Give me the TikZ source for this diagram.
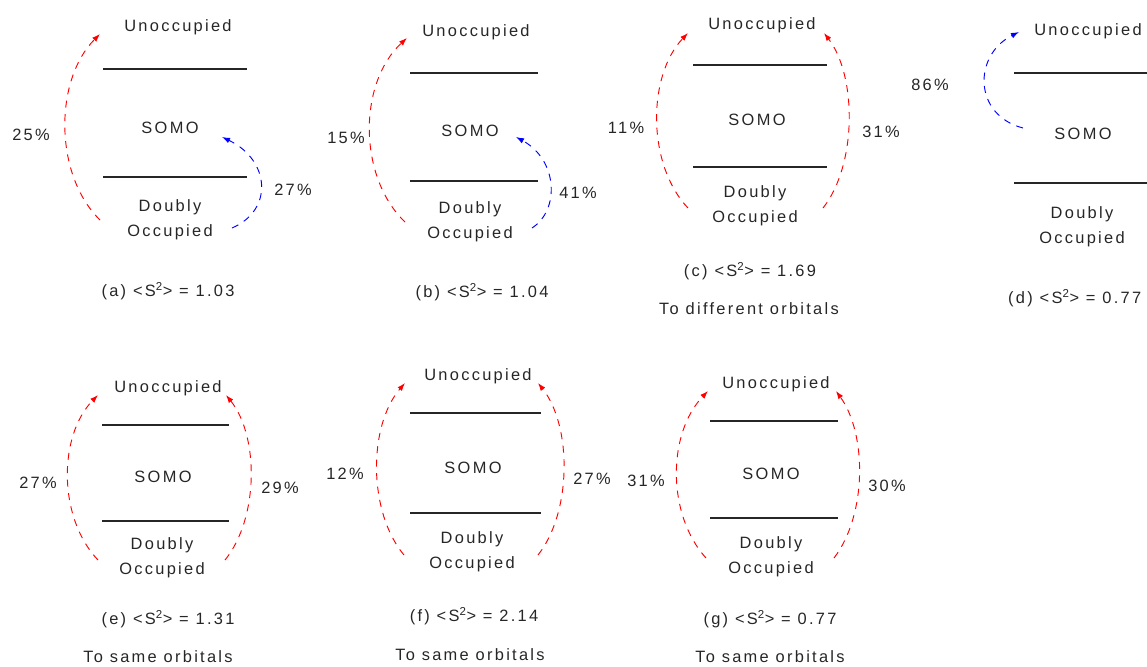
\documentclass[tikz,border=0pt]{standalone}
\usepackage{fontspec}
\newfontfamily\lsfont[LetterSpace=14]{Liberation Sans}
\usetikzlibrary{arrows.meta}

\begin{document}
\begin{tikzpicture}[x=0.03cm, y=-0.03cm,
  lbl/.style={inner sep=0pt, align=center, text=black!85, font=\lsfont\fontsize{14}{21.5}\selectfont},
  lvl/.style={line width=1.1pt, black!85},
  jump/.style={#1, line width=0.8pt, dash pattern=on 6pt off 5.5pt, -{Latex[length=2.4mm, width=1.7mm]}}]
\useasboundingbox (0,0) rectangle (1147,666);
% (a)
\node[lbl] (a-un) at (178,27) {Unoccupied};
\draw[lvl] (103,69) -- (247,69);
\node[lbl] (a-so) at (170,128) {SO\kern2pt MO};
\draw[lvl] (103,177) -- (247,177);
\node[lbl] (a-do) at (170,220) {Doubly\\Occupied};
\node[lbl] (a-cap) at (168,291) {(a) <S\textsuperscript{2}> = 1.03};
\coordinate (a-l0) at (100,220); \coordinate (a-l1) at (100,34);
\coordinate (a-b0) at (232,228); \coordinate (a-b1) at (222,137);
\draw[jump=red] (a-l0) .. controls (54,175) and (54,80) .. (a-l1);
\draw[jump=blue] (a-b0) .. controls (274,210) and (270,160) .. (a-b1);
\node[lbl] (a-p1) at (31,135) {25\%};
\node[lbl] (a-p2) at (293,190) {27\%};
% (b)
\node[lbl] (b-un) at (476,32) {Unoccupied};
\draw[lvl] (410,73) -- (538,73);
\node[lbl] (b-so) at (470,131) {SO\kern2pt MO};
\draw[lvl] (410,181) -- (538,181);
\node[lbl] (b-do) at (470,222) {Doubly\\Occupied};
\node[lbl] (b-cap) at (482,292) {(b) <S\textsuperscript{2}> = 1.04};
\coordinate (b-l0) at (405,222); \coordinate (b-l1) at (407,38);
\coordinate (b-b0) at (532,228); \coordinate (b-b1) at (516,137);
\draw[jump=red] (b-l0) .. controls (358,177) and (358,83) .. (b-l1);
\draw[jump=blue] (b-b0) .. controls (560,210) and (558,160) .. (b-b1);
\node[lbl] (b-p1) at (346,138) {15\%};
\node[lbl] (b-p2) at (578,193) {41\%};
% (c)
\node[lbl] (c-un) at (762,25) {Unoccupied};
\draw[lvl] (693,65) -- (827,65);
\node[lbl] (c-so) at (757,120) {SO\kern2pt MO};
\draw[lvl] (693,167) -- (827,167);
\node[lbl] (c-do) at (755,206) {Doubly\\Occupied};
\node[lbl] (c-cap) at (750,271) {(c) <S\textsuperscript{2}> = 1.69};
\node[lbl] (c-sub) at (749,309) {To different orbitals};
\coordinate (c-l0) at (688,208); \coordinate (c-l1) at (688,33);
\coordinate (c-r0) at (823,208); \coordinate (c-r1) at (824,33);
\draw[jump=red] (c-l0) .. controls (647,165) and (647,76) .. (c-l1);
\draw[jump=red] (c-r0) .. controls (857,165) and (857,76) .. (c-r1);
\node[lbl] (c-p1) at (626,128) {11\%};
\node[lbl] (c-p2) at (881,132) {31\%};
% (d)
\node[lbl] (d-un) at (1088,31) {Unoccupied};
\draw[lvl] (1014,73) -- (1160,73);
\node[lbl] (d-so) at (1083,134) {SO\kern2pt MO};
\draw[lvl] (1014,183) -- (1160,183);
\node[lbl] (d-do) at (1082,227) {Doubly\\Occupied};
\node[lbl, anchor=west] (d-cap) at (1008,298) {(d) <S\textsuperscript{2}> = 0.77};
\coordinate (d-b0) at (1023,128); \coordinate (d-b1) at (1019,32);
\draw[jump=blue] (d-b0) .. controls (973,115) and (973,55) .. (d-b1);
\node[lbl] (d-p1) at (930,85) {86\%};
% (e)
\node[lbl] (e-un) at (168,388) {Unoccupied};
\draw[lvl] (102,425) -- (229,425);
\node[lbl] (e-so) at (163,477) {SO\kern2pt MO};
\draw[lvl] (102,521) -- (229,521);
\node[lbl] (e-do) at (162,558) {Doubly\\Occupied};
\node[lbl] (e-cap) at (168,619) {(e) <S\textsuperscript{2}> = 1.31};
\node[lbl] (e-sub) at (158,657) {To same orbitals};
\coordinate (e-l0) at (98,560); \coordinate (e-l1) at (98,395);
\coordinate (e-r0) at (225,560); \coordinate (e-r1) at (226,395);
\draw[jump=red] (e-l0) .. controls (58,518) and (58,436) .. (e-l1);
\draw[jump=red] (e-r0) .. controls (259,518) and (259,436) .. (e-r1);
\node[lbl] (e-p1) at (38,483) {27\%};
\node[lbl] (e-p2) at (280,488) {29\%};
% (f)
\node[lbl] (f-un) at (478,376) {Unoccupied};
\draw[lvl] (410,413) -- (541,413);
\node[lbl] (f-so) at (473,468) {SO\kern2pt MO};
\draw[lvl] (410,513) -- (541,513);
\node[lbl] (f-do) at (472,552) {Doubly\\Occupied};
\node[lbl] (f-cap) at (474,616) {(f) <S\textsuperscript{2}> = 2.14};
\node[lbl] (f-sub) at (470,655) {To same orbitals};
\coordinate (f-l0) at (404,555); \coordinate (f-l1) at (405,383);
\coordinate (f-r0) at (538,555); \coordinate (f-r1) at (538,383);
\draw[jump=red] (f-l0) .. controls (368,512) and (368,426) .. (f-l1);
\draw[jump=red] (f-r0) .. controls (572,512) and (572,426) .. (f-r1);
\node[lbl] (f-p1) at (345,474) {12\%};
\node[lbl] (f-p2) at (592,479) {27\%};
% (g)
\node[lbl] (g-un) at (776,384) {Unoccupied};
\draw[lvl] (710,421) -- (838,421);
\node[lbl] (g-so) at (771,474) {SO\kern2pt MO};
\draw[lvl] (710,518) -- (838,518);
\node[lbl] (g-do) at (771,557) {Doubly\\Occupied};
\node[lbl] (g-cap) at (770,619) {(g) <S\textsuperscript{2}> = 0.77};
\node[lbl] (g-sub) at (770,657) {To same orbitals};
\coordinate (g-l0) at (706,558); \coordinate (g-l1) at (708,391);
\coordinate (g-r0) at (834,558); \coordinate (g-r1) at (836,391);
\draw[jump=red] (g-l0) .. controls (667,515) and (667,434) .. (g-l1);
\draw[jump=red] (g-r0) .. controls (867,515) and (867,434) .. (g-r1);
\node[lbl] (g-p1) at (646,481) {31\%};
\node[lbl] (g-p2) at (887,486) {30\%};
\end{tikzpicture}
\end{document}
